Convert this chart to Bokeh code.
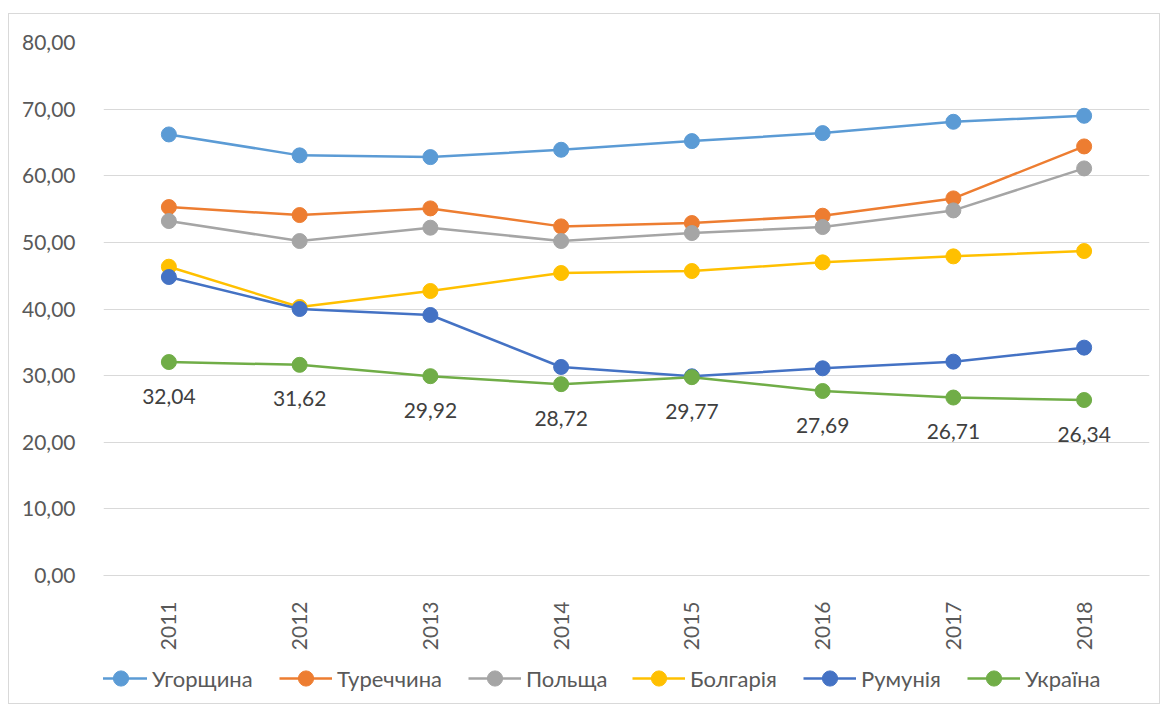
import math
from bokeh.plotting import figure
from bokeh.layouts import column
from bokeh.models import (Range1d, Legend, LegendItem, FixedTicker,
                          CustomJSTickFormatter, ColumnDataSource)
from bokeh.core.properties import value
from bokeh.embed import file_html
from bokeh.resources import INLINE

# ---- data ----
years = ["2011", "2012", "2013", "2014", "2015", "2016", "2017", "2018"]
hungary = [66.2, 63.06, 62.8, 63.9, 65.2, 66.4, 68.1, 69.0]
turkey = [55.3, 54.1, 55.1, 52.4, 52.9, 54.0, 56.6, 64.4]
poland = [53.2, 50.2, 52.2, 50.2, 51.4, 52.3, 54.8, 61.1]
bulgaria = [46.35, 40.3, 42.7, 45.4, 45.7, 47.0, 47.9, 48.7]
romania = [44.8, 40.0, 39.1, 31.3, 29.9, 31.1, 32.1, 34.2]
ukraine = [32.04, 31.62, 29.92, 28.72, 29.77, 27.69, 26.71, 26.34]
y_ticks = [0, 10, 20, 30, 40, 50, 60, 70, 80]

series_names = ["Угорщина", "Туреччина", "Польща", "Болгарія", "Румунія", "Україна"]
series_values = [hungary, turkey, poland, bulgaria, romania, ukraine]
series_colors = ["#5B9BD5", "#ED7D31", "#A5A5A5", "#FFC000", "#4472C4", "#70AD47"]

# legend entry left edges (screen px relative to the aligned plot frame)
legend_x = [-9, 176, 365, 529, 700, 864]

FONT = "Lato"
W = 1150

p = figure(x_range=years, y_range=Range1d(0, 80), width=W, height=641,
           output_backend="svg", toolbar_location=None,
           min_border_left=94, min_border_right=10,
           min_border_top=28, min_border_bottom=80)
p.outline_line_color = None
p.background_fill_color = "white"
p.border_fill_color = "white"

p.xgrid.grid_line_color = None
p.ygrid.grid_line_color = "#D9D9D9"
p.ygrid.grid_line_width = 1

p.yaxis.ticker = FixedTicker(ticks=y_ticks)
p.yaxis.formatter = CustomJSTickFormatter(code="return tick.toFixed(2).replace('.', ',');")
p.yaxis.axis_line_color = None
p.yaxis.major_tick_line_color = None
p.yaxis.minor_tick_line_color = None
p.yaxis.major_label_standoff = 22
p.yaxis.major_label_text_font = FONT
p.yaxis.major_label_text_font_size = "21px"
p.yaxis.major_label_text_color = "#595959"

p.xaxis.axis_line_color = "#D9D9D9"
p.xaxis.major_tick_line_color = None
p.xaxis.minor_tick_line_color = None
p.xaxis.major_label_orientation = math.pi / 2
p.xaxis.major_label_standoff = 20
p.xaxis.major_label_text_font = FONT
p.xaxis.major_label_text_font_size = "21px"
p.xaxis.major_label_text_color = "#595959"

for name, vals, col in zip(series_names, series_values, series_colors):
    src = ColumnDataSource(dict(x=years, y=vals))
    p.line("x", "y", source=src, line_color=col, line_width=2.5)
    p.scatter("x", "y", source=src, size=15, fill_color=col, line_color=col)

labels = [f"{v:.2f}".replace(".", ",") for v in ukraine]
p.text(x=years, y=ukraine, text=labels, text_font=value(FONT),
       text_font_size=value("21px"), text_color="#404040",
       text_align="center", text_baseline="middle", y_offset=34)

# ---- legend strip (separate figure below the chart) ----
# The series are re-plotted here with a y-range above all values, so only
# their legend swatches are visible.
lf = figure(width=W, height=48, x_range=years, y_range=Range1d(100, 101),
            output_backend="svg", toolbar_location=None,
            x_axis_location=None, y_axis_location=None,
            min_border=0, min_border_left=0, min_border_right=0,
            min_border_top=0, min_border_bottom=0)
lf.outline_line_color = None
lf.xgrid.grid_line_color = None
lf.ygrid.grid_line_color = None
lf.background_fill_color = "white"
lf.border_fill_color = "white"

for name, vals, col, lx in zip(series_names, series_values, series_colors, legend_x):
    src = ColumnDataSource(dict(x=years, y=vals))
    l = lf.line("x", "y", source=src, line_color=col, line_width=2.5)
    s = lf.scatter("x", "y", source=src, size=15, fill_color=col, line_color=col)
    leg = Legend(items=[LegendItem(label=name, renderers=[l, s])],
                 orientation="horizontal", location=(lx, 6),
                 border_line_color=None, background_fill_alpha=0,
                 label_text_font=FONT, label_text_font_size="22px",
                 label_text_color="#595959", glyph_width=53, glyph_height=38,
                 label_standoff=5, spacing=0, padding=0, margin=0)
    lf.add_layout(leg, "center")

layout = column(p, lf, spacing=0,
                styles={"border": "1px solid #D9D9D9", "margin-left": "8px",
                        "margin-top": "13px"})

open("out.html", "w").write(file_html(layout, INLINE))
